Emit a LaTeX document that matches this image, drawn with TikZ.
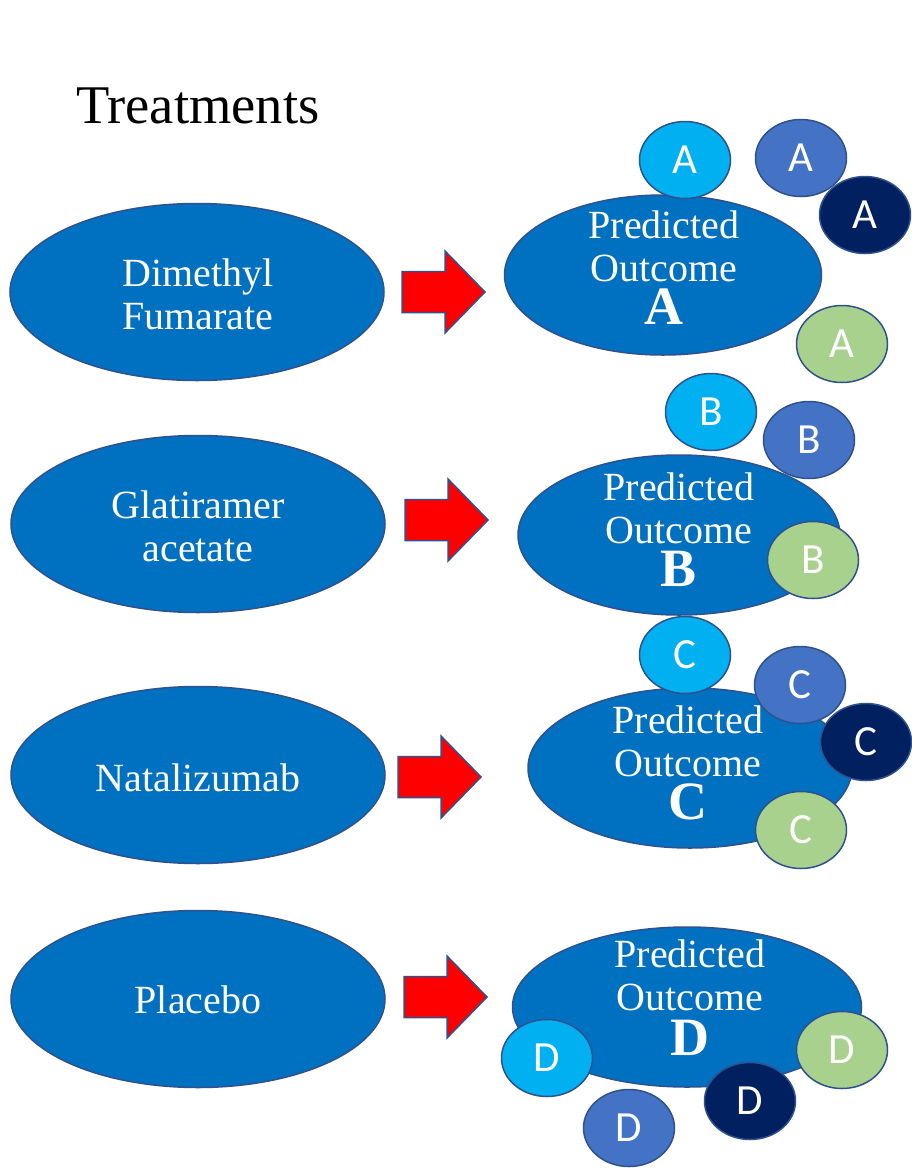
\documentclass[tikz,border=0pt]{standalone}
\usepackage{fontspec}
\setmainfont{Liberation Serif}
\newfontfamily\circfont{Carlito}
\usetikzlibrary{shapes.geometric}
\definecolor{outline}{HTML}{2F528F}
\definecolor{mainblue}{HTML}{0070C0}
\definecolor{lightblue}{HTML}{00B0F0}
\definecolor{midblue}{HTML}{4472C4}
\definecolor{navy}{HTML}{002060}
\definecolor{softgreen}{HTML}{A9D18E}
\definecolor{arrowred}{HTML}{FF0000}
\tikzset{
  treat/.style={ellipse, draw=outline, line width=1.5pt, fill=mainblue,
    minimum width=374pt, minimum height=177pt, inner sep=0pt},
  treattext/.style={text=white, align=center, inner sep=0pt,
    font=\fontsize{40}{43}\selectfont},
  outcome/.style={ellipse, draw=outline, line width=1.5pt, fill=mainblue,
    minimum width=#1, minimum height=160pt, inner sep=0pt},
  outline/.style={text=white, inner sep=0pt, anchor=base,
    text height=28pt, text depth=0pt, font=\fontsize{40}{43}\selectfont},
  outletter/.style={text=white, inner sep=0pt, anchor=base,
    text height=36pt, text depth=0pt, font=\fontsize{54}{54}\selectfont\bfseries},
  dot/.style={ellipse, draw=outline, line width=1.5pt, fill=#1,
    minimum width=91pt, minimum height=77pt, inner sep=0pt, text=white,
    font=\circfont\fontsize{43}{43}\selectfont},
  blockarrow/.style={draw=outline, line width=1.5pt, fill=arrowred, line join=miter}
}
\newcommand\treatarrow[2]{%
  \draw[blockarrow, shift={(#1,#2)}] (0,-20.5) -- (43,-20.5) -- (43,-41) -- (83,0)
    -- (43,41) -- (43,20.5) -- (0,20.5) -- cycle;}
\begin{document}
\begin{tikzpicture}[x=1pt,y=-1pt]
\useasboundingbox (0,0) rectangle (912,1171);
\fill[white] (0,0) rectangle (912,1171);

\node[anchor=base west, inner sep=0pt, font=\fontsize{54.5}{54.5}\selectfont] (title) at (76,123) {Treatments};

% treatments
\node[treat] (t1) at (197,292) {};
\node[treattext] (t1txt) at (198,294) {Dimethyl\\Fumarate};
\node[treat] (t2) at (198,524) {};
\node[treattext] (t2txt) at (198,526) {Glatiramer\\acetate};
\node[treat] (t3) at (198,775) {};
\node[treattext] (t3txt) at (198,778) {Natalizumab};
\node[treat] (t4) at (198,999) {};
\node[treattext] (t4txt) at (198,1000) {Placebo};

% block arrows
\treatarrow{402}{292}
\treatarrow{405}{520}
\treatarrow{398}{777}
\treatarrow{404}{997}

% outcome A
\node[outcome=317pt] (oA) at (663,275) {};
\node[outline] (oA1) at (664,238) {Predicted};
\node[outline] (oA2) at (664,281) {Outcome};
\node[outletter] (oA3) at (664,324) {A};
\node[dot=lightblue] (a1) at (685,160) {A};
\node[dot=midblue] (a2) at (801,158) {A};
\node[dot=navy] (a3) at (865,215) {A};
\node[dot=softgreen] (a4) at (842,344) {A};

% outcome B
\node[outcome=322pt] (oB) at (679,535) {};
\node[outline] (oB1) at (679,500) {Predicted};
\node[outline] (oB2) at (679,543) {Outcome};
\node[outletter] (oB3) at (679,586) {B};
\node[dot=lightblue] (b1) at (711,412) {B};
\node[dot=midblue] (b2) at (809,440) {B};
\node[dot=softgreen] (b3) at (813,560) {B};

% outcome C
\node[outcome=324pt] (oC) at (690,768) {};
\node[outline] (oC1) at (688,733) {Predicted};
\node[outline] (oC2) at (688,776) {Outcome};
\node[outletter] (oC3) at (688,819) {C};
\node[dot=lightblue] (c1) at (685,655) {C};
\node[dot=midblue] (c2) at (800,685) {C};
\node[dot=navy] (c3) at (866,742) {C};
\node[dot=softgreen] (c4) at (801,830) {C};

% outcome D
\node[outcome=349pt] (oD) at (687,1007) {};
\node[outline] (oD1) at (690,967) {Predicted};
\node[outline] (oD2) at (690,1010) {Outcome};
\node[outletter] (oD3) at (690,1055) {D};
\node[dot=lightblue] (d1) at (547,1058) {D};
\node[dot=midblue] (d2) at (629,1128) {D};
\node[dot=navy] (d3) at (750,1101) {D};
\node[dot=softgreen] (d4) at (842,1050) {D};
\end{tikzpicture}
\end{document}
